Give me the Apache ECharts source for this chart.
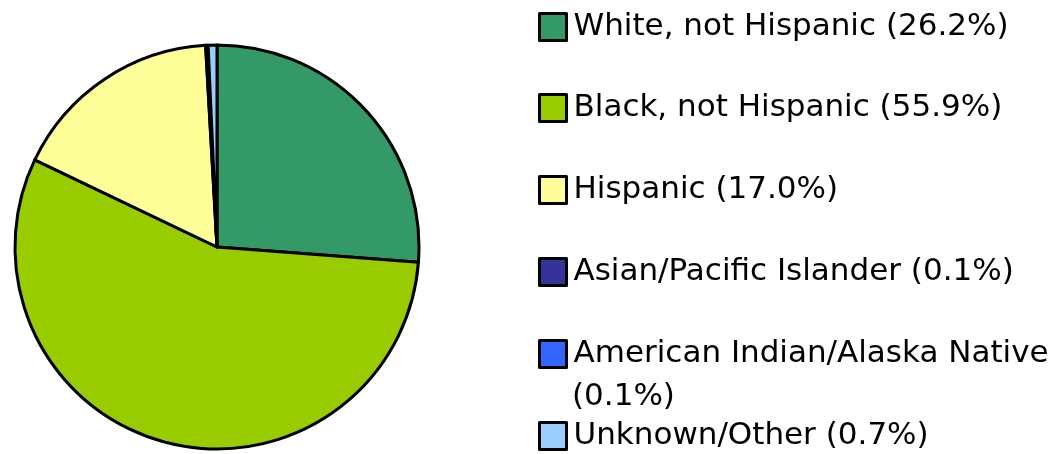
<!DOCTYPE html>
<html>
<head>
<meta charset="utf-8">
<script src="https://cdn.jsdelivr.net/npm/echarts@6/dist/echarts.min.js"></script>
<style>
html, body { margin: 0; padding: 0; background: #fff; }
#chart { width: 1055px; height: 454px; }
</style>
</head>
<body>
<div id="chart"></div>
<script>
// 数据
var groups = ['White, not Hispanic', 'Black, not Hispanic', 'Hispanic', 'Asian/Pacific Islander', 'American Indian/Alaska Native', 'Unknown/Other'];
var shares = [26.2, 55.9, 17.0, 0.1, 0.1, 0.7];
var colors = ['#339966', '#99cc00', '#ffff99', '#333399', '#3366ff', '#99ccff'];
var legendCenters = [27, 108, 190, 272, 354, 436];
var wrapCenter = 397; // second line of the long label

var chart = echarts.init(document.getElementById('chart'));

function pct(name) {
    return '(' + shares[groups.indexOf(name)].toFixed(1) + '%)';
}

function makeLegend(name, top, icon, fmt) {
    return {
        orient: 'vertical',
        left: 538,
        top: top,
        itemWidth: 27,
        itemHeight: 27,
        itemGap: 0,
        padding: 0,
        selectedMode: false,
        icon: icon,
        data: [{ name: name, icon: icon }],
        formatter: fmt,
        itemStyle: { borderColor: '#000', borderWidth: 3 },
        textStyle: {
            fontFamily: 'DejaVu Sans',
            fontSize: 31,
            color: '#000',
            lineHeight: 42,
            padding: [0, 0, 0, 2]
        }
    };
}

var legends = [];
for (var i = 0; i < groups.length; i++) {
    var long = groups[i].length > 25;
    legends.push(makeLegend(groups[i], legendCenters[i] - 21, 'rect', long ?
        function (name) { return name; } :
        function (name) { return name + ' ' + pct(name); }));
}
// wrapped percent of the long label
legends.push(makeLegend(groups[4], wrapCenter - 21, 'none', function (name) { return pct(name); }));

var option = {
    animation: false,
    color: colors,
    legend: legends,
    series: [{
        type: 'pie',
        center: [217, 247],
        radius: 202,
        startAngle: 90,
        clockwise: true,
        label: { show: false },
        labelLine: { show: false },
        emphasis: { disabled: true },
        itemStyle: { borderColor: '#000', borderWidth: 3 },
        data: groups.map(function (g, i) { return { name: g, value: shares[i] }; })
    }]
};

chart.setOption(option);
</script>
</body>
</html>
